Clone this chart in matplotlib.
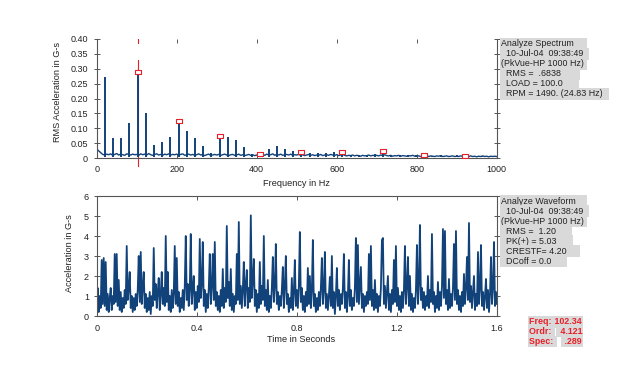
import numpy as np
import matplotlib
matplotlib.use("Agg")
import matplotlib.pyplot as plt

plt.rcParams['font.family'] = ['Liberation Sans', 'DejaVu Sans']

# ---- spectrum data ----
# noise floor of the spectrum, one value every 5 Hz from 0 to 1000 Hz
spec_floor = [
    0.030, 0.024, 0.018, 0.012, 0.010, 0.013, 0.011, 0.014, 0.009, 0.012,
    0.015, 0.010, 0.013, 0.011, 0.009, 0.014, 0.012, 0.010, 0.013, 0.011,
    0.012, 0.009, 0.014, 0.011, 0.013, 0.010, 0.015, 0.011, 0.009, 0.012,
    0.014, 0.010, 0.012, 0.009, 0.013, 0.011, 0.014, 0.010, 0.012, 0.011,
    0.013, 0.010, 0.012, 0.014, 0.009, 0.011, 0.013, 0.010, 0.012, 0.009,
    0.011, 0.014, 0.010, 0.012, 0.008, 0.011, 0.013, 0.009, 0.010, 0.012,
    0.010, 0.012, 0.009, 0.011, 0.013, 0.010, 0.008, 0.011, 0.012, 0.009,
    0.010, 0.013, 0.009, 0.011, 0.008, 0.010, 0.012, 0.009, 0.011, 0.008,
    0.010, 0.008, 0.011, 0.012, 0.009, 0.013, 0.010, 0.011, 0.014, 0.009,
    0.012, 0.010, 0.013, 0.009, 0.011, 0.012, 0.010, 0.013, 0.009, 0.011,
    0.010, 0.012, 0.009, 0.011, 0.008, 0.010, 0.012, 0.009, 0.011, 0.008,
    0.010, 0.009, 0.012, 0.008, 0.010, 0.011, 0.009, 0.012, 0.010, 0.009,
    0.011, 0.008, 0.010, 0.012, 0.009, 0.007, 0.009, 0.008, 0.010, 0.007,
    0.009, 0.008, 0.006, 0.009, 0.007, 0.008, 0.010, 0.007, 0.009, 0.008,
    0.009, 0.007, 0.010, 0.008, 0.011, 0.008, 0.007, 0.009, 0.006, 0.008,
    0.007, 0.009, 0.006, 0.008, 0.007, 0.006, 0.008, 0.007, 0.009, 0.006,
    0.008, 0.007, 0.005, 0.007, 0.006, 0.008, 0.005, 0.007, 0.006, 0.005,
    0.007, 0.006, 0.008, 0.005, 0.006, 0.007, 0.005, 0.006, 0.007, 0.005,
    0.006, 0.005, 0.007, 0.006, 0.004, 0.006, 0.005, 0.007, 0.005, 0.006,
    0.004, 0.006, 0.005, 0.007, 0.005, 0.006, 0.004, 0.006, 0.005, 0.006,
    0.005,
]

# harmonic peaks (Hz, G-s RMS)
peak_hz = [20.5, 40.9, 61.4, 81.9, 102.3, 122.8, 143.3, 163.8, 184.2, 204.7,
           225.2, 245.6, 266.1, 286.6, 307.0, 327.5, 348.0, 368.5, 388.9, 409.4,
           429.9, 450.3, 470.8, 491.3, 511.7, 532.2, 552.7, 573.1, 593.6, 614.0,
           634.5, 655.0, 675.5, 695.9, 716.4, 736.9, 757.3, 777.8, 798.3, 818.7,
           839.2, 859.7, 880.2, 900.6, 921.1, 941.6, 962.0, 982.5]
peak_amp = [0.272, 0.066, 0.066, 0.116, 0.289, 0.152, 0.043, 0.055, 0.071, 0.121,
            0.090, 0.066, 0.040, 0.018, 0.072, 0.069, 0.060, 0.036, 0.014, 0.012,
            0.029, 0.041, 0.031, 0.022, 0.020, 0.017, 0.018, 0.016, 0.019, 0.018,
            0.010, 0.009, 0.010, 0.013, 0.024, 0.011, 0.009, 0.010, 0.011, 0.010,
            0.008, 0.009, 0.008, 0.009, 0.008, 0.007, 0.008, 0.007]

# red cursor markers
mark_hz = [102.34, 204.7, 307.0, 409.4, 511.7, 614.0, 716.4, 818.7, 921.1]
mark_amp = [0.289, 0.125, 0.073, 0.015, 0.021, 0.019, 0.024, 0.010, 0.008]
cursor_hz = 102.34

spec_info = ["Analyze Spectrum     ", "  10-Jul-04  09:38:49  ", "(PkVue-HP 1000 Hz) ",
             "  RMS =  .6838       ", "  LOAD = 100.0      ", "  RPM = 1490. (24.83 Hz)  "]
wave_info = ["Analyze Waveform    ", "  10-Jul-04  09:38:49  ", "(PkVue-HP 1000 Hz) ",
             "  RMS =  1.20      ", "  PK(+) = 5.03      ", "  CRESTF= 4.20     ", "  DCoff = 0.0      "]
cursor_labels = ["Freq:", "Ordr:", "Spec:"]
cursor_values = ["102.34", "4.121", ".289"]

# ---- waveform data, one value every 0.004 s from 0 to 1.6 s ----
wave = [
    0.5, 1.4, 0.2, 1.0, 0.4, 2.8, 0.6, 2.9, 0.5, 2.7, 0.3, 1.1, 0.2, 0.9, 1.4, 0.3, 1.0, 0.6, 3.1, 0.7,
    3.1, 0.5, 1.8, 0.3, 1.2, 0.2, 0.9, 0.4, 1.3, 0.6, 3.5, 0.8, 1.4, 2.2, 0.4, 1.0, 0.2, 0.9, 0.3, 1.1,
    0.5, 1.3, 3.0, 0.7, 3.2, 0.6, 1.5, 2.2, 0.4, 1.1, 0.2, 0.9, 0.3, 1.2, 0.1, 1.0, 0.5, 3.4, 0.8, 1.6,
    0.4, 1.2, 1.9, 0.3, 1.1, 2.2, 0.6, 1.4, 0.5, 4.0, 0.7, 2.2, 0.3, 1.0, 0.2, 1.3, 0.4, 1.1, 3.5, 0.6,
    2.9, 0.5, 1.2, 0.2, 0.9, 0.4, 1.3, 0.3, 1.5, 4.0, 0.8, 1.6, 0.5, 1.3, 4.1, 0.6, 1.4, 2.0, 0.3, 1.2,
    0.4, 1.5, 0.7, 3.85, 0.9, 1.6, 3.7, 0.5, 1.3, 0.2, 1.1, 0.4, 1.4, 3.1, 0.6, 1.5, 3.1, 0.8, 3.7, 0.5,
    1.2, 0.3, 1.0, 0.2, 1.3, 0.5, 2.35, 0.4, 1.4, 0.7, 4.5, 0.9, 1.7, 0.5, 2.35, 0.3, 1.1, 0.2, 1.0, 0.6,
    3.1, 0.8, 4.7, 0.6, 1.5, 0.4, 1.3, 2.7, 0.5, 1.6, 2.3, 0.4, 1.4, 0.7, 5.03, 0.9, 1.8, 2.85, 0.5, 1.3,
    0.2, 1.1, 0.4, 2.7, 0.6, 1.5, 0.8, 4.0, 0.5, 1.3, 0.3, 1.8, 0.2, 1.0, 0.4, 1.4, 2.95, 0.7, 1.5, 3.6,
    0.6, 1.2, 0.3, 1.0, 0.5, 1.3, 2.45, 0.4, 1.5, 3.0, 0.6, 1.1, 0.2, 0.9, 0.4, 1.9, 0.3, 1.2, 2.8, 0.5,
    1.3, 0.4, 1.5, 4.2, 0.7, 1.4, 0.3, 1.0, 0.2, 1.2, 0.5, 2.4, 0.6, 2.0, 0.4, 1.3, 3.8, 0.5, 1.1, 0.2,
    0.9, 0.3, 1.2, 0.5, 1.4, 2.9, 0.6, 1.3, 3.2, 0.4, 1.1, 0.3, 1.0, 1.95, 0.5, 3.0, 0.4, 1.2, 0.1, 1.0,
    2.4, 0.5, 1.3, 0.3, 1.1, 0.6, 1.4, 3.1, 0.4, 1.2, 0.2, 1.0, 2.8, 0.5, 1.3, 0.3, 0.9, 0.5, 1.4, 3.9,
    0.7, 3.55, 0.6, 1.5, 2.45, 0.4, 1.1, 0.2, 1.0, 0.5, 1.2, 0.6, 3.1, 0.8, 3.5, 0.5, 1.3, 0.3, 1.8, 0.4,
    1.1, 0.2, 1.0, 0.5, 1.4, 3.8, 3.9, 0.6, 1.5, 0.4, 1.2, 2.0, 0.3, 1.1, 0.2, 1.3, 0.6, 2.8, 0.7, 3.5,
    0.5, 1.4, 0.3, 1.0, 0.2, 1.2, 0.4, 1.3, 3.5, 0.6, 1.5, 2.95, 0.5, 2.0, 0.3, 1.1, 0.2, 0.9, 0.4, 1.3,
    3.55, 0.6, 1.6, 4.55, 0.8, 1.4, 0.4, 1.2, 0.3, 1.0, 0.5, 2.0, 0.4, 1.3, 0.7, 4.1, 0.6, 1.2, 0.2, 1.0,
    0.4, 1.7, 0.3, 1.2, 0.5, 1.5, 4.35, 0.9, 4.25, 0.6, 1.3, 0.3, 1.85, 0.4, 1.1, 0.5, 1.4, 3.6, 0.8, 4.25,
    0.6, 1.3, 0.3, 1.0, 0.2, 1.2, 0.5, 2.1, 0.6, 1.4, 2.95, 0.8, 4.65, 0.7, 1.5, 0.4, 1.2, 2.0, 0.3, 1.1,
    0.5, 3.2, 0.6, 1.4, 3.55, 0.5, 1.2, 0.3, 1.0, 1.85, 0.4, 1.3, 0.2, 1.1, 2.95, 0.6, 1.4, 3.7, 0.5, 1.2,
    0.6,
]

BLUE = '#12427a'
RED = '#e8202a'
GRAY_BOX = '#d9d9d9'
FRAME = '#555555'
TXT = '#222222'
W, H = 640, 366


def fx(x):
    return x / W


def fy(y):
    return 1 - y / H


def style_axes(ax):
    for s in ax.spines.values():
        s.set_color(FRAME)
        s.set_linewidth(0.8)
    ax.tick_params(labelsize=6.5, colors=FRAME, labelcolor=TXT, width=0.7)


fig = plt.figure(figsize=(6.4, 3.66), dpi=100)

# ---- top: spectrum ----
ax1 = fig.add_axes([fx(96.7), fy(158), fx(400), 119 / H])
f_floor = np.linspace(0, 1000, len(spec_floor))
ax1.plot([cursor_hz, cursor_hz], [-0.027, 0.33], color=RED, lw=0.8, zorder=1, clip_on=False)
ax1.plot([cursor_hz, cursor_hz], [0.385, 0.40], color=RED, lw=0.8, zorder=1)
ax1.plot(f_floor, spec_floor, color=BLUE, lw=1.0, zorder=2)
ax1.vlines(peak_hz, 0.004, peak_amp, color=BLUE, lw=1.4, zorder=2)
rect = [(-1.5, -1), (1.5, -1), (1.5, 1), (-1.5, 1), (-1.5, -1)]
ax1.plot(mark_hz, mark_amp, linestyle='none', marker=rect, ms=4.2, mfc='white',
         mec=RED, mew=0.8, zorder=3)
ax1.set_xlim(0, 1000)
ax1.set_ylim(0, 0.40)
ax1.set_xticks([0, 200, 400, 600, 800, 1000])
ax1.set_yticks(np.arange(0, 0.401, 0.05))
ax1.set_yticklabels(['0', '0.05', '0.10', '0.15', '0.20', '0.25', '0.30', '0.35', '0.40'])
style_axes(ax1)
ax1.spines['top'].set_visible(False)
ax1.tick_params(axis='y', direction='inout', length=5, right=True, pad=4)
ax1.tick_params(axis='x', direction='in', length=3, top=True, pad=5)

# ---- bottom: waveform ----
ax2 = fig.add_axes([fx(96.7), fy(316), fx(400.3), 120 / H])
t = np.linspace(0, 1.6, len(wave))
ax2.plot(t, wave, color=BLUE, lw=1.3)
ax2.set_xlim(0, 1.6)
ax2.set_ylim(0, 6)
ax2.set_xticks([0, 0.4, 0.8, 1.2, 1.6])
ax2.set_xticklabels(['0', '0.4', '0.8', '1.2', '1.6'])
ax2.set_yticks(range(7))
style_axes(ax2)
ax2.tick_params(axis='y', direction='inout', length=5, right=True, pad=3)
ax2.tick_params(axis='x', direction='in', length=3, top=True, pad=6)

# axis titles
fig.text(fx(57), fy(92), 'RMS Acceleration in G-s', rotation=90, fontsize=6.6,
         color=TXT, ha='center', va='center')
fig.text(fx(296.7), fy(183), 'Frequency in Hz', fontsize=6.6, color=TXT,
         ha='center', va='center')
fig.text(fx(69), fy(253), 'Acceleration in G-s', rotation=90, fontsize=6.6,
         color=TXT, ha='center', va='center')
fig.text(fx(301), fy(340), 'Time in Seconds', fontsize=6.6, color=TXT,
         ha='center', va='center')

box = dict(boxstyle='square,pad=0.12', fc=GRAY_BOX, ec='none')
for i, line in enumerate(spec_info):
    fig.text(fx(501), fy(44 + 10 * i), line, fontsize=6.4, color=TXT,
             ha='left', va='center', bbox=box)
for i, line in enumerate(wave_info):
    fig.text(fx(501), fy(201 + 10 * i), line, fontsize=6.4, color=TXT,
             ha='left', va='center', bbox=box)
for i, (lab, val) in enumerate(zip(cursor_labels, cursor_values)):
    y = 322 + 9.8 * i
    fig.text(fx(529), fy(y), lab + ' ', fontsize=6.4, color=RED, weight='bold',
             ha='left', va='center', bbox=box)
    fig.text(fx(582), fy(y), ' ' + val, fontsize=6.4, color=RED, weight='bold',
             ha='right', va='center', bbox=box)

fig.savefig('out.png', dpi=100)
